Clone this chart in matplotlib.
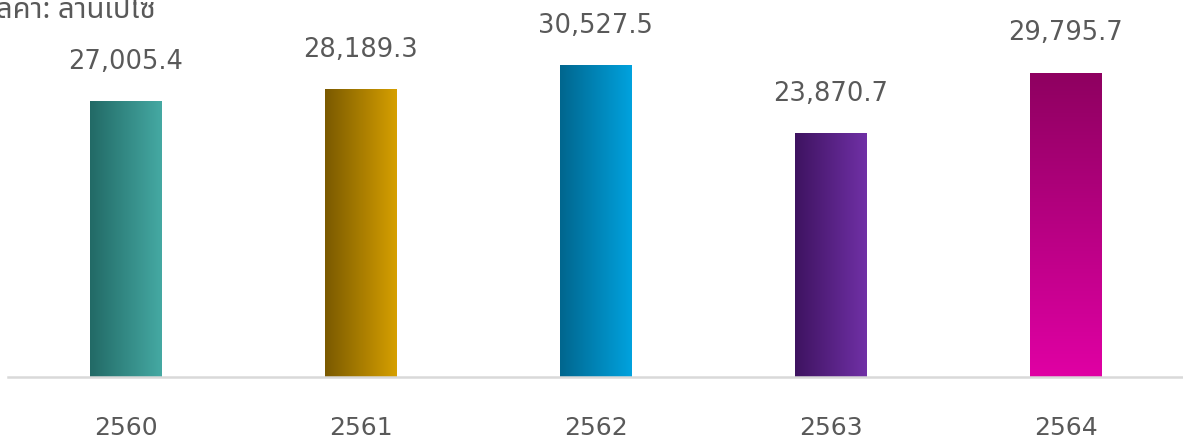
import matplotlib
matplotlib.use("Agg")
import matplotlib.pyplot as plt
import numpy as np
from matplotlib.colors import LinearSegmentedColormap

years = ["2560", "2561", "2562", "2563", "2564"]
values = [27005.4, 28189.3, 30527.5, 23870.7, 29795.7]
labels = ["27,005.4", "28,189.3", "30,527.5", "23,870.7", "29,795.7"]
# gradient colours (start, end, direction)
grads = [("#226a66", "#45a9a3", "h"),
         ("#7a5900", "#d6a000", "h"),
         ("#00668e", "#00a2de", "h"),
         ("#3e1360", "#7030a6", "h"),
         ("#8e0060", "#e000a4", "v")]

plt.rcParams['font.family'] = ['Tahoma', 'Noto Sans Thai', 'Loma', 'Garuda', 'DejaVu Sans']

fig = plt.figure(figsize=(11.83, 4.43), dpi=100)
ax = fig.add_axes([8 / 1183, 66 / 443, 1175 / 1183, 377 / 443])

x = np.arange(len(years))
bars = ax.bar(x, values, width=72 / 235, color="none", edgecolor="none")

for b, (c0, c1, d) in zip(bars, grads):
    cmap = LinearSegmentedColormap.from_list("g", [c0, c1])
    if d == "h":
        img = np.linspace(0, 1, 256).reshape(1, -1)
    else:
        img = np.linspace(0, 1, 256).reshape(-1, 1)
    x0, y0 = b.get_x(), b.get_y()
    w, h = b.get_width(), b.get_height()
    im = ax.imshow(img, cmap=cmap, aspect="auto", origin="upper" if d == "v" else "lower",
                   extent=[x0, x0 + w, y0, y0 + h], zorder=2)
    im.set_clip_path(b)

for xi, v, lab in zip(x, values, labels):
    ax.annotate(lab, (xi, v), xytext=(0, 19), textcoords="offset points",
                ha="center", va="bottom", fontsize=18.5, color="#595959",
                family="DejaVu Sans")

ax.set_xlim(-0.5, 4.5)
ax.set_ylim(0, 36900)
ax.set_xticks(x)
ax.set_xticklabels(years, fontsize=18, color="#595959", family="DejaVu Sans")
ax.tick_params(axis="x", length=0, pad=28)
ax.set_yticks([])
for s in ["top", "right", "left"]:
    ax.spines[s].set_visible(False)
ax.spines["bottom"].set_color("#d9d9d9")
ax.spines["bottom"].set_linewidth(1.8)

# title is partly cut off at the left edge in the original
fig.text(-22 / 1183, 1 - 10 / 443, "มูลค่า: ล้านเปโซ", fontsize=21, color="#595959",
         ha="left", va="center")

fig.savefig("out.png", dpi=100)
